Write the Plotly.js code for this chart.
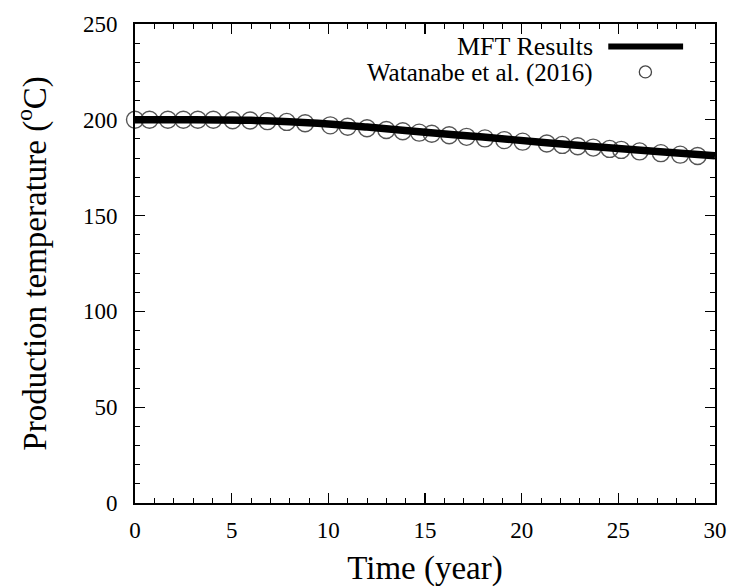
<!DOCTYPE html>
<html>
<head>
<meta charset="utf-8">
<script src="https://cdn.plot.ly/plotly-3.0.1.min.js"></script>
<style>html,body{margin:0;padding:0;background:#fff;}#chart{width:735px;height:587px;}</style>
</head>
<body>
<div id="chart"></div>
<script>
// MFT Results (solid line)
const mftTime = [0, 3, 6, 8, 10, 12, 15, 18, 21, 24, 27, 30];
const mftTemp = [200, 200, 199.7, 199.0, 197.8, 196.2, 193.5, 191.0, 188.3, 185.8, 183.4, 181.2];

// Watanabe et al. (2016) (open circles)
const watTime = [0, 0.75, 1.7, 2.5, 3.25, 4.05, 5.05, 5.95, 6.85, 7.85, 8.8, 10.1, 11.0, 12.0, 13.0, 13.85, 14.7, 15.35, 16.25, 17.15, 18.1, 19.1, 20.05, 21.3, 22.1, 22.9, 23.7, 24.55, 25.15, 26.1, 27.2, 28.2, 29.1];
const watTemp = [200, 200, 200, 200, 200, 200, 199.8, 199.6, 199.3, 198.9, 198.2, 197.1, 196.4, 195.6, 194.7, 194.0, 193.3, 192.7, 191.9, 191.1, 190.3, 189.4, 188.6, 187.6, 186.9, 186.2, 185.5, 184.8, 184.3, 183.5, 182.6, 181.8, 181.1];

const xTicks = [0, 5, 10, 15, 20, 25, 30];
const yTicks = [0, 50, 100, 150, 200, 250];

const legendNames = ['MFT Results', 'Watanabe et al. (2016)'];

const font = '"Liberation Serif", "Times New Roman", serif';

const traces = [
  {
    x: watTime, y: watTemp, type: 'scatter', mode: 'markers', name: legendNames[1],
    marker: {symbol: 'circle-open', size: 17, color: '#555', line: {width: 1.4, color: '#555'}},
    cliponaxis: false, showlegend: false
  },
  {
    x: mftTime, y: mftTemp, type: 'scatter', mode: 'lines', name: legendNames[0],
    line: {color: '#000', width: 7.5, shape: 'spline'},
    cliponaxis: false, showlegend: false
  }
];

const layout = {
  width: 735, height: 587,
  margin: {l: 135, r: 20, t: 24, b: 84},
  paper_bgcolor: '#fff', plot_bgcolor: '#fff',
  font: {family: font, color: '#000', size: 23},
  showlegend: false,
  xaxis: {
    showline: true, linecolor: '#000', linewidth: 2, mirror: 'allticks',
    ticks: 'inside', ticklen: 10, tickwidth: 1.3, tickcolor: '#000',
    showgrid: false, zeroline: false,
    tickfont: {family: font, size: 23, color: '#000'},
    range: [0, 30], tickvals: xTicks, ticktext: xTicks.map(String),
    minor: {dtick: 1, ticks: 'inside', ticklen: 5, tickcolor: '#000', tickwidth: 1},
    ticklabelstandoff: 5,
    title: {text: 'Time (year)', font: {family: font, size: 33, color: '#000'}, standoff: 14}
  },
  yaxis: {
    showline: true, linecolor: '#000', linewidth: 2, mirror: 'allticks',
    ticks: 'inside', ticklen: 10, tickwidth: 1.3, tickcolor: '#000',
    showgrid: false, zeroline: false,
    tickfont: {family: font, size: 23, color: '#000'},
    range: [0, 250], tickvals: yTicks, ticktext: yTicks.map(String),
    minor: {dtick: 10, ticks: 'inside', ticklen: 5, tickcolor: '#000', tickwidth: 1},
    ticklabelstandoff: 11,
    title: {text: 'Production temperature (<sup>o</sup>C)', font: {family: font, size: 33, color: '#000'}, standoff: 26}
  },
  annotations: [
    {xref: 'paper', yref: 'paper', x: 0.793, y: 0.953, xanchor: 'right', yanchor: 'middle', showarrow: false,
     text: legendNames[0], font: {family: font, size: 26, color: '#000'}},
    {xref: 'paper', yref: 'paper', x: 0.793, y: 0.898, xanchor: 'right', yanchor: 'middle', showarrow: false,
     text: legendNames[1], font: {family: font, size: 25, color: '#000'}}
  ],
  shapes: [
    {type: 'line', xref: 'paper', yref: 'paper', x0: 0.816, x1: 0.945, y0: 0.953, y1: 0.953, line: {color: '#000', width: 6}},
    {type: 'circle', xref: 'paper', yref: 'paper', x0: 0.8695, x1: 0.8905, y0: 0.8875, y1: 0.9125, line: {color: '#444', width: 1.3}}
  ]
};

Plotly.newPlot('chart', traces, layout, {displayModeBar: false, staticPlot: true});
</script>
</body>
</html>
